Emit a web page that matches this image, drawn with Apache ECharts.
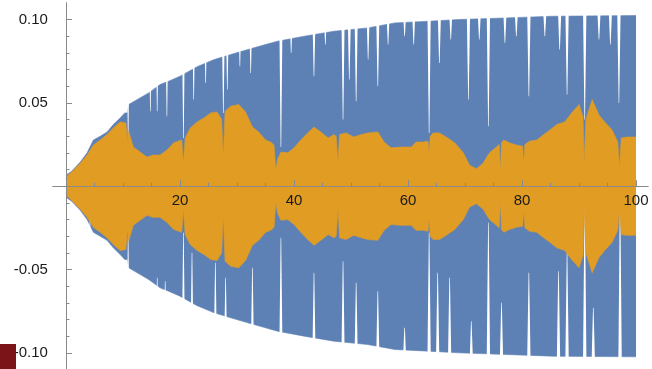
<!DOCTYPE html>
<html><head><meta charset="utf-8">
<script src="https://cdn.jsdelivr.net/npm/echarts@6/dist/echarts.min.js"></script>
<style>html,body{margin:0;padding:0;background:#fff}#c{width:652px;height:369px}</style>
</head><body><div id="c"></div>
<script>
// ---- data ----
const xMajorTicks = [20, 40, 60, 80, 100];
const xMinorTicks = [5, 10, 15, 25, 30, 35, 45, 50, 55, 65, 70, 75, 85, 90, 95];
const yMajorTicks = [-0.10, -0.05, 0.05, 0.10];
const yMinorTicks = [-0.09, -0.08, -0.07, -0.06, -0.04, -0.03, -0.02, -0.01, 0.01, 0.02, 0.03, 0.04, 0.06, 0.07, 0.08, 0.09];

// blue signal: amplitude envelope [x, amplitude]
const blueEnvelope = [
  [0, 0.0066], [1, 0.009], [2.5, 0.0145], [3.7, 0.020], [4.8, 0.0277], [6, 0.030], [7.2, 0.0325],
  [8.3, 0.037], [9.5, 0.041], [10.3, 0.044], [10.8, 0.044], [11.0, 0.049], [12.5, 0.052],
  [14.5, 0.056], [16.5, 0.061], [18, 0.063], [20, 0.066], [23, 0.0717], [26, 0.076],
  [28.9, 0.079], [31.9, 0.082], [35, 0.085], [37.1, 0.087], [41.8, 0.090], [47, 0.093],
  [52.9, 0.095], [57.7, 0.098], [63.6, 0.099], [68.9, 0.100], [77.2, 0.101], [85.3, 0.102],
  [100, 0.1024]
];
// white gaps in the blue band: [x, amplitude the gap reaches down to]
const blueTopGaps = [
  [10.9, 0.028], [14.8, 0.045], [16.0, 0.045], [17.7, 0.042], [20.6, 0.029], [22.4, 0.052],
  [24.5, 0.062], [27.6, 0.044], [28.3, 0.058], [30.5, 0.072], [32.4, 0.068], [37.7, 0.0235],
  [39.5, 0.080], [43.5, 0.066], [45.5, 0.085], [48.6, 0.040], [49.7, 0.064], [50.9, 0.051],
  [53.0, 0.076], [54.7, 0.060], [56.5, 0.085], [59.4, 0.090], [61.0, 0.085], [63.7, 0.032],
  [65.5, 0.074], [67.5, 0.088], [70.6, 0.052], [72.5, 0.088], [74.1, 0.036], [77.0, 0.086],
  [79.0, 0.090], [81.2, 0.054], [84.0, 0.090], [86.6, 0.082], [87.9, 0.055], [91.0, 0.040],
  [93.5, 0.088], [95.5, 0.085], [97.0, 0.050]
];
const blueBottomGaps = [
  [4.2, 0.018], [10.9, 0.030], [16.0, 0.055], [17.4, 0.057], [20.6, 0.028], [22.1, 0.040],
  [26.2, 0.046], [28.0, 0.055], [32.7, 0.049], [37.7, 0.031], [43.5, 0.052], [48.6, 0.045],
  [50.9, 0.058], [54.7, 0.063], [59.4, 0.085], [63.7, 0.028], [65.2, 0.052], [67.3, 0.055],
  [71.1, 0.081], [74.1, 0.022], [76.4, 0.070], [81.2, 0.052], [86.4, 0.051], [87.9, 0.040],
  [91.0, 0.0145], [92.5, 0.073], [97.2, 0.0114]
];
// orange signal: amplitude envelope [x, amplitude]
const orangeEnvelope = [
  [0, 0.004], [0.1, 0.0056], [1.3, 0.0096], [2.5, 0.0138], [3.7, 0.0187], [4.8, 0.0247], [6, 0.0277],
  [7.2, 0.031], [8.3, 0.035], [9.5, 0.0386], [10.5, 0.038], [10.8, 0.026], [11.0, 0.033], [11.8, 0.0235],
  [13, 0.0205], [14.2, 0.0175], [15.3, 0.0187], [16.5, 0.0187], [17.7, 0.0217], [18.9, 0.026],
  [20.3, 0.0277], [20.6, 0.0139], [20.9, 0.029], [21.8, 0.035], [23, 0.0386], [24.2, 0.041],
  [25.4, 0.044], [26.5, 0.0446], [27.3, 0.040], [27.6, 0.0175], [27.9, 0.045], [28.9, 0.048],
  [30.3, 0.049], [31.5, 0.0446], [32.7, 0.0355], [33.8, 0.0325], [35, 0.0277], [35.9, 0.0265],
  [36.5, 0.0247], [36.8, 0.0096], [37.1, 0.016], [37.7, 0.0205], [38.9, 0.020], [40, 0.023],
  [41.2, 0.0277], [42.4, 0.032], [43.5, 0.0355], [44.7, 0.0325], [46, 0.029], [47, 0.031],
  [47.4, 0.030], [47.7, 0.0139], [48.0, 0.031], [49.1, 0.032], [50.5, 0.0295], [51.8, 0.031],
  [53, 0.032], [54.7, 0.0325], [55.8, 0.0265], [57, 0.023], [58.8, 0.0235], [60.6, 0.0235],
  [61.4, 0.0265], [62.7, 0.0265], [63.5, 0.027], [63.7, 0.020], [63.9, 0.030], [64.4, 0.032],
  [65.5, 0.032], [66.7, 0.0295], [68.2, 0.026], [69.7, 0.020], [70.8, 0.0125], [72, 0.0105],
  [73.2, 0.0139], [73.8, 0.0175], [74.3, 0.020], [75.5, 0.0235], [76.0, 0.025], [76.2, 0.009],
  [76.4, 0.026], [76.8, 0.0277], [77.8, 0.026], [79, 0.0247], [80.1, 0.024], [80.3, 0.014],
  [80.5, 0.025], [81.3, 0.027], [82.6, 0.0277], [83.8, 0.031], [84.9, 0.0337], [86.1, 0.037],
  [87.5, 0.0386], [88.7, 0.044], [90, 0.049], [90.7, 0.0416], [90.9, 0.0139], [91.2, 0.040],
  [92.3, 0.052], [93.5, 0.0428], [94.5, 0.0386], [95.8, 0.0337], [96.8, 0.0265], [97.1, 0.0114],
  [97.4, 0.029], [98.4, 0.0295], [100, 0.0295]
];

// ---- chart ----
const BLUE = '#5E81B5', ORANGE = '#E19C24', AXIS = '#8a8a8a', LABEL = '#1a1a1a';
const X_MIN = -2.3, X_MAX = 102.1, Y_MIN = -0.11, Y_MAX = 0.11;
const GRID_TOP = 2.9, GRID_H = 366.6;
// move the x axis from the grid bottom up to y = 0
const X_AXIS_OFFSET = -GRID_H * (0 - Y_MIN) / (Y_MAX - Y_MIN);
const neg = arr => arr.map(p => [p[0], -p[1]]);

function gapShape(sign) {
  return function (params, api) {
    const x = api.value(0), d = api.value(1) * sign, t = 0.106 * sign;
    const pts = [api.coord([x - 0.3, t]), api.coord([x + 0.3, t]),
                 api.coord([x + 0.05, d]), api.coord([x - 0.05, d])];
    return { type: 'polygon', shape: { points: pts }, style: { fill: '#ffffff' } };
  };
}
function band(name, data, color, z) {
  return { name, type: 'line', data, z, showSymbol: false, symbol: 'none', silent: true,
           lineStyle: { width: 0.6, color }, areaStyle: { color, opacity: 1, origin: 0 } };
}
const labelFont = { color: LABEL, fontSize: 15, fontFamily: 'Liberation Sans' };

const chart = echarts.init(document.getElementById('c'));
chart.setOption({
  animation: false,
  backgroundColor: '#ffffff',
  grid: { left: 52.9, top: GRID_TOP, width: 595.1, height: GRID_H, containLabel: false, outerBoundsMode: 'none' },
  xAxis: [
    { type: 'value', min: X_MIN, max: X_MAX, position: 'bottom', offset: X_AXIS_OFFSET, z: 10,
      axisLine: { onZero: false, lineStyle: { color: AXIS, width: 1 } },
      axisTick: { inside: true, length: 6, customValues: xMajorTicks, lineStyle: { color: AXIS } },
      axisLabel: Object.assign({ customValues: xMajorTicks, margin: 7 }, labelFont),
      splitLine: { show: false } },
    { type: 'value', min: X_MIN, max: X_MAX, position: 'bottom', offset: X_AXIS_OFFSET, z: 10,
      axisLine: { onZero: false, lineStyle: { color: AXIS, width: 1 } },
      axisTick: { inside: true, length: 3.5, customValues: xMinorTicks, lineStyle: { color: AXIS } },
      axisLabel: { show: false }, splitLine: { show: false } }
  ],
  yAxis: [
    { type: 'value', min: Y_MIN, max: Y_MAX, position: 'left', z: 10,
      axisLine: { onZero: true, onZeroAxisIndex: 0, lineStyle: { color: AXIS, width: 1 } },
      axisTick: { inside: true, length: 6, customValues: yMajorTicks, lineStyle: { color: AXIS } },
      axisLabel: Object.assign({ customValues: yMajorTicks, margin: 5, formatter: v => v.toFixed(2) }, labelFont),
      splitLine: { show: false } },
    { type: 'value', min: Y_MIN, max: Y_MAX, position: 'left', z: 10,
      axisLine: { onZero: true, onZeroAxisIndex: 1, lineStyle: { color: AXIS, width: 1 } },
      axisTick: { inside: true, length: 3.5, customValues: yMinorTicks, lineStyle: { color: AXIS } },
      axisLabel: { show: false }, splitLine: { show: false } }
  ],
  series: [
    band('blueTop', blueEnvelope, BLUE, 1),
    band('blueBottom', neg(blueEnvelope), BLUE, 1),
    { type: 'custom', z: 2, silent: true, data: blueTopGaps, renderItem: gapShape(1) },
    { type: 'custom', z: 2, silent: true, data: blueBottomGaps, renderItem: gapShape(-1) },
    band('orangeTop', orangeEnvelope, ORANGE, 3),
    band('orangeBottom', neg(orangeEnvelope), ORANGE, 3)
  ],
  graphic: [{ type: 'rect', left: 0, top: 344, shape: { width: 16, height: 25 },
              style: { fill: '#7a1418' }, z: 100 }]
});
</script></body></html>
